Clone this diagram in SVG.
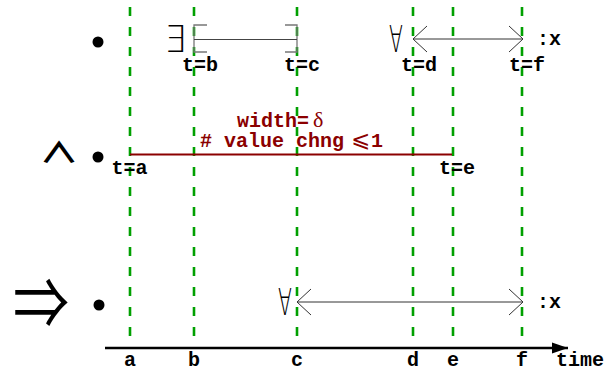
<svg xmlns="http://www.w3.org/2000/svg" width="610" height="371" viewBox="0 0 610 371">
<style>
.g{stroke:#00a000;stroke-width:2.6;stroke-dasharray:9,11;fill:none}
.m{font-family:"Liberation Mono","DejaVu Sans Mono",monospace;font-weight:bold;font-size:20px;fill:#000}
.r{fill:#8b0000}
.sym{font-family:"DejaVu Sans",sans-serif;fill:#000}
.cjk{font-family:"Noto Sans CJK JP","DejaVu Sans",sans-serif;fill:#000}
.thin{font-weight:200}
.br{stroke:#777;stroke-width:1.3;fill:none}
.ar{stroke:#333;stroke-width:1;fill:none}
</style>
<defs>
<marker id="oa" markerUnits="userSpaceOnUse" viewBox="-15 -14 16 28" refX="0" refY="0" markerWidth="16" markerHeight="28" orient="auto-start-reverse" overflow="visible">
<path d="M-14,-13 L0,0 L-14,13" fill="none" stroke="#333" stroke-width="1"/>
</marker>
<marker id="ax" markerUnits="userSpaceOnUse" viewBox="-17 -6 18 12" refX="0" refY="0" markerWidth="18" markerHeight="12" orient="auto" overflow="visible">
<path d="M-16,-5.5 L0,0 L-16,5.5 Z" fill="#000"/>
</marker>
</defs>
<rect width="610" height="371" fill="#fff"/>

<g id="timelines">
<line class="g" x1="130" y1="7" x2="130" y2="347"/>
<line class="g" x1="194" y1="7" x2="194" y2="347"/>
<line class="g" x1="297" y1="7" x2="297" y2="347"/>
<line class="g" x1="413" y1="7" x2="413" y2="347"/>
<line class="g" x1="453" y1="7" x2="453" y2="347"/>
<line class="g" x1="522" y1="7" x2="522" y2="347"/>
</g>

<g id="axis">
<line x1="105" y1="348" x2="568" y2="348" stroke="#000" stroke-width="2.5" marker-end="url(#ax)"/>
<text class="m" x="130" y="366" text-anchor="middle">a</text>
<text class="m" x="194" y="366" text-anchor="middle">b</text>
<text class="m" x="297" y="366" text-anchor="middle">c</text>
<text class="m" x="413" y="366" text-anchor="middle">d</text>
<text class="m" x="453" y="366" text-anchor="middle">e</text>
<text class="m" x="522" y="366" text-anchor="middle">f</text>
<text class="m" x="556" y="366">time</text>
</g>

<g id="row1">
<circle cx="98" cy="42" r="5.5" fill="#000"/>
<text class="sym thin" transform="translate(175,52) scale(0.95,1)" font-size="37" text-anchor="middle">∃</text>
<path class="br" d="M207,25 H194 V52 H207"/>
<path class="br" d="M285,25 H297 V52 H285"/>
<line x1="194" y1="39.5" x2="297" y2="39.5" stroke="#444" stroke-width="1.2"/>
<text class="m" x="200" y="71" text-anchor="middle">t=b</text>
<text class="m" x="302" y="71" text-anchor="middle">t=c</text>
<text class="sym thin" transform="translate(396,52) scale(0.55,1)" font-size="37" text-anchor="middle">∀</text>
<text class="m" x="419" y="71" text-anchor="middle">t=d</text>
<text class="m" x="527" y="71" text-anchor="middle">t=f</text>
<text class="m" x="537" y="45">:x</text>
</g>

<g id="row2">
<text class="cjk" transform="translate(59,163) scale(0.9,0.65)" font-size="44" font-weight="bold" text-anchor="middle">∧</text>
<circle cx="98" cy="157" r="5.5" fill="#000"/>
<line x1="130" y1="154.5" x2="452" y2="154.5" stroke="#8b0000" stroke-width="2.2"/>
<text class="m" x="129.5" y="174" text-anchor="middle">t=a</text>
<text class="m" x="457" y="174" text-anchor="middle">t=e</text>
<text class="m r" x="237" y="127">width=<tspan x="313" font-family="'Liberation Serif',serif" font-weight="normal" font-size="22">δ</tspan></text>
<text class="m r" x="200" y="147"># value chng<tspan x="351" font-family="'DejaVu Sans',sans-serif" font-weight="normal" font-size="23">⩽</tspan><tspan x="371">1</tspan></text>
</g>

<g id="row3">
<text class="cjk" transform="translate(41,329) scale(1,1.25)" font-size="56" text-anchor="middle">⇒</text>
<circle cx="99" cy="305" r="5.5" fill="#000"/>
<text class="sym thin" transform="translate(285,315) scale(0.55,1)" font-size="37" text-anchor="middle">∀</text>
<text class="m" x="537" y="308">:x</text>
</g>

<g id="connectors">
<line class="ar" x1="413" y1="39" x2="523" y2="39" marker-start="url(#oa)" marker-end="url(#oa)"/>
<line class="ar" x1="297" y1="302" x2="523" y2="302" marker-start="url(#oa)" marker-end="url(#oa)"/>
</g>
</svg>
